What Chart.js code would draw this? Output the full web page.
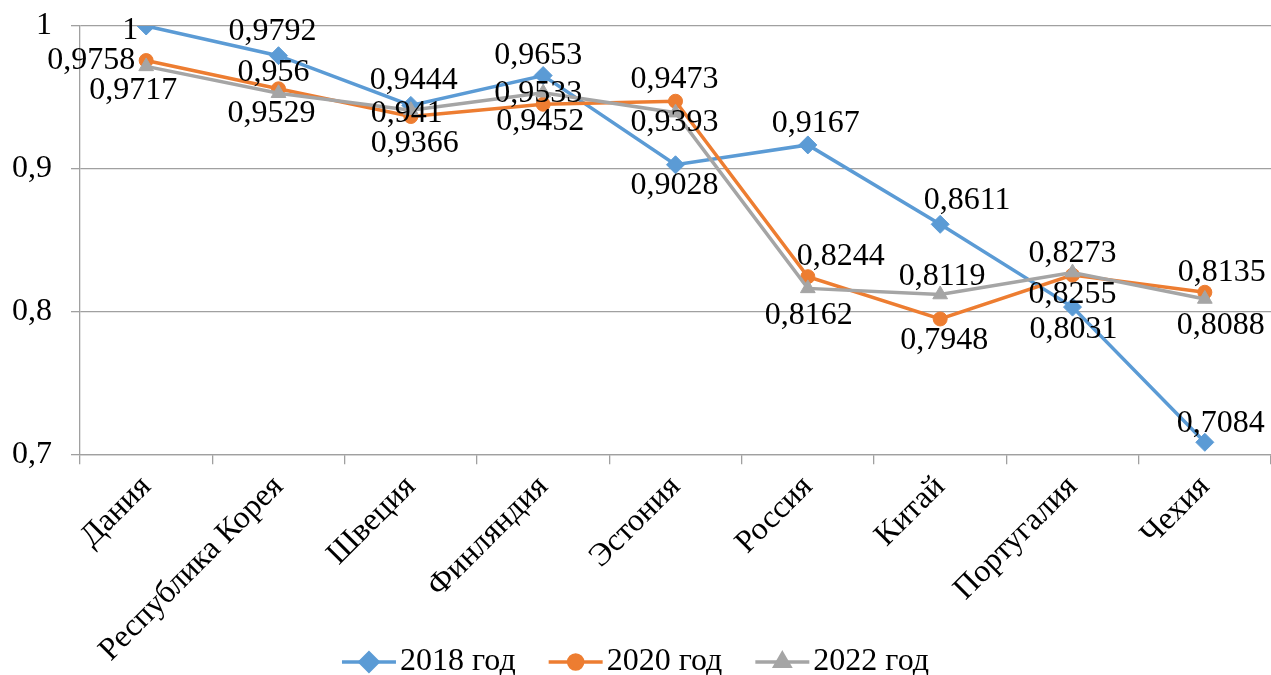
<!DOCTYPE html>
<html>
<head>
<meta charset="utf-8">
<script src="https://cdn.jsdelivr.net/npm/chart.js@4/dist/chart.umd.min.js"></script>
<style>
  html, body { margin: 0; padding: 0; background: #ffffff; }
  #wrap { width: 1271px; height: 675px; position: relative; }
</style>
</head>
<body>
<div id="wrap"><canvas id="chart"></canvas></div>
<script>
// Categories and series values
const categories = ['Дания', 'Республика Корея', 'Швеция', 'Финляндия', 'Эстония', 'Россия', 'Китай', 'Португалия', 'Чехия'];
const seriesNames = ['2018 год', '2020 год', '2022 год'];
const values2018 = [1, 0.9792, 0.9444, 0.9653, 0.9028, 0.9167, 0.8611, 0.8031, 0.7084];
const values2020 = [0.9758, 0.956, 0.9366, 0.9452, 0.9473, 0.8244, 0.7948, 0.8255, 0.8135];
const values2022 = [0.9717, 0.9529, 0.941, 0.9533, 0.9393, 0.8162, 0.8119, 0.8273, 0.8088];
const yTicks = [0.7, 0.8, 0.9, 1];

// Value label placement relative to each marker (dx, dy in px)
const labelOffsets2018 = [[-16, 5], [-6, -24], [3, -25], [-5, -20], [-1, 21], [8, -21], [27, -24], [1, 22], [16, -19]];
const labelOffsets2020 = [[-55, 0], [-5, -16], [4, 27], [-3, 17], [-1, -22], [33, -20], [4, 22], [0, 19], [17, -20]];
const labelOffsets2022 = [[-13, 24], [-7, 20], [-4, 3], [-5, 1], [-1, 10], [1, 27], [2, -18], [0, -19], [16, 27]];
const labelOffsets = [labelOffsets2018, labelOffsets2020, labelOffsets2022];

const FONT_FAMILY = "'Liberation Serif', 'Times New Roman', serif";
const FONT_SIZE = 32;
const GRID_COLOR = '#a0a0a0';

const fmt = v => String(v).replace('.', ',');

// Data labels drawn above the lines
const valueLabels = {
  id: 'valueLabels',
  afterDatasetsDraw(chart) {
    const ctx = chart.ctx;
    ctx.save();
    ctx.font = FONT_SIZE + 'px ' + FONT_FAMILY;
    ctx.fillStyle = '#000';
    ctx.textAlign = 'center';
    ctx.textBaseline = 'middle';
    chart.data.datasets.forEach((ds, i) => {
      const meta = chart.getDatasetMeta(i);
      meta.data.forEach((pt, j) => {
        const off = labelOffsets[i][j];
        ctx.fillText(fmt(ds.data[j]), pt.x + off[0], pt.y + off[1]);
      });
    });
    ctx.restore();
  }
};

// Legend: line sample with the series marker in the middle, then the name
const lineLegend = {
  id: 'lineLegend',
  afterDraw(chart) {
    const ctx = chart.ctx;
    const sample = 54, textGap = 4, itemGap = 33, cy = 662;
    ctx.save();
    ctx.font = FONT_SIZE + 'px ' + FONT_FAMILY;
    const items = chart.data.datasets.map(ds => ({ ds, w: sample + textGap + ctx.measureText(ds.label).width }));
    const total = items.reduce((s, it) => s + it.w, 0) + itemGap * (items.length - 1);
    let x = (chart.width - total) / 2;
    items.forEach(it => {
      const ds = it.ds;
      ctx.strokeStyle = ds.borderColor;
      ctx.lineWidth = ds.borderWidth;
      ctx.beginPath();
      ctx.moveTo(x, cy);
      ctx.lineTo(x + sample, cy);
      ctx.stroke();
      ctx.fillStyle = ds.pointBackgroundColor;
      ctx.strokeStyle = ds.pointBorderColor;
      Chart.helpers.drawPoint(ctx, {
        pointStyle: ds.pointStyle, radius: ds.pointRadius, rotation: 0, borderWidth: 1
      }, x + sample / 2, cy);
      ctx.fillStyle = '#000';
      ctx.textAlign = 'left';
      ctx.textBaseline = 'middle';
      ctx.fillText(ds.label, x + sample + textGap, cy);
      x += it.w + itemGap;
    });
    ctx.restore();
  }
};

const makeSeries = (label, data, color, style, radius, order) => ({
  label, data, order,
  borderColor: color,
  backgroundColor: color,
  borderWidth: 3.5,
  tension: 0,
  pointStyle: style,
  pointRadius: radius,
  pointHoverRadius: radius,
  pointBackgroundColor: color,
  pointBorderColor: color,
  pointBorderWidth: 1
});

new Chart(document.getElementById('chart'), {
  type: 'line',
  data: {
    labels: categories,
    datasets: [
      makeSeries(seriesNames[0], values2018, '#5b9bd5', 'rectRot', 9, 2),
      makeSeries(seriesNames[1], values2020, '#ed7d31', 'circle', 7, 1),
      makeSeries(seriesNames[2], values2022, '#a5a5a5', 'triangle', 8.5, 0)
    ]
  },
  options: {
    responsive: true,
    maintainAspectRatio: false,
    devicePixelRatio: 1,
    animation: false,
    layout: { autoPadding: false, padding: { top: 26, left: 0, right: 0, bottom: 0 } },
    plugins: {
      legend: { display: false },
      tooltip: { enabled: false }
    },
    scales: {
      x: {
        offset: true,
        grid: { offset: true, drawOnChartArea: false, drawTicks: true, tickLength: 10, color: GRID_COLOR, lineWidth: 1.3 },
        border: { display: true, color: GRID_COLOR, width: 1.3 },
        ticks: {
          autoSkip: false, maxRotation: 45, minRotation: 45, padding: 4,
          color: '#000', font: { family: FONT_FAMILY, size: FONT_SIZE }
        },
        afterFit(scale) {
          scale.height = 220.7;
          scale.paddingLeft = 0; scale.paddingRight = 0;
        }
      },
      y: {
        min: 0.7, max: 1,
        afterBuildTicks(scale) { scale.ticks = yTicks.map(v => ({ value: v })); },
        grid: { color: GRID_COLOR, lineWidth: 1.3, tickLength: 9, drawTicks: true },
        border: { display: true, color: GRID_COLOR, width: 1.3 },
        ticks: {
          padding: 19, color: '#000', font: { family: FONT_FAMILY, size: FONT_SIZE },
          callback: v => (v === 1 ? '1' : Number(v).toFixed(1).replace('.', ','))
        },
        afterFit(scale) {
          scale.width = 80;
          scale.paddingTop = 0; scale.paddingBottom = 0;
        }
      }
    }
  },
  plugins: [valueLabels, lineLegend]
});
</script>
</body>
</html>
